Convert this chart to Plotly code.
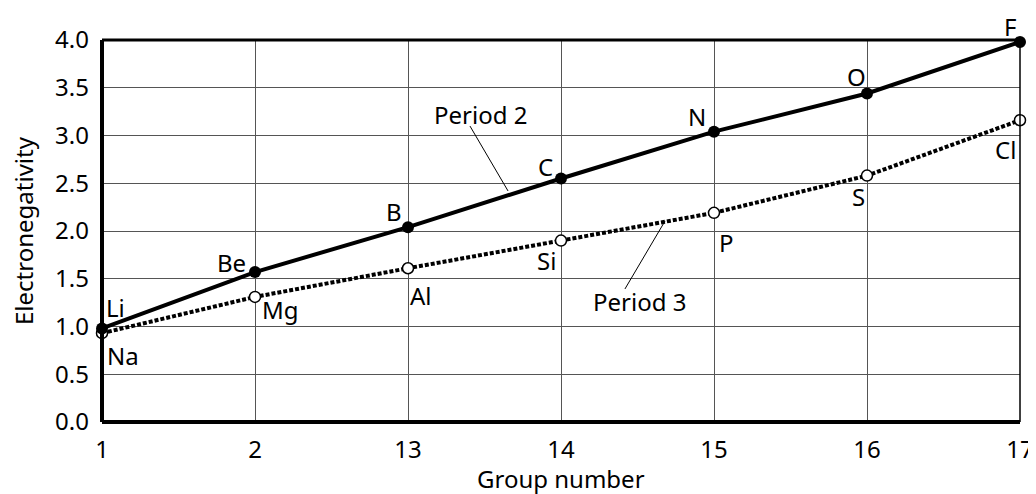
import plotly.graph_objects as go

groups = ["1", "2", "13", "14", "15", "16", "17"]
period2_symbols = ["Li", "Be", "B", "C", "N", "O", "F"]
period2_values = [0.98, 1.57, 2.04, 2.55, 3.04, 3.44, 3.98]
period3_symbols = ["Na", "Mg", "Al", "Si", "P", "S", "Cl"]
period3_values = [0.93, 1.31, 1.61, 1.90, 2.19, 2.58, 3.16]
y_ticks = [0.0, 0.5, 1.0, 1.5, 2.0, 2.5, 3.0, 3.5, 4.0]

xi = list(range(len(groups)))
FONT = "Noto Sans"
FS = 24

fig = go.Figure()
fig.add_trace(go.Scatter(
    x=xi, y=period3_values, mode="lines+markers",
    line=dict(color="black", width=4, dash="4px,2px"),
    marker=dict(symbol="circle", size=11, color="white", line=dict(color="black", width=1.5)),
    cliponaxis=False, showlegend=False))
fig.add_trace(go.Scatter(
    x=xi, y=period2_values, mode="lines+markers",
    line=dict(color="black", width=4),
    marker=dict(symbol="circle", size=12, color="black"),
    cliponaxis=False, showlegend=False))

# label offsets in pixels (dx right, dy down) from each point, centre of text
p2_off = [(13, -21), (-24, -10), (-14, -16), (-16, -12), (-17, -15), (-11, -17), (-10, -15)]
p3_off = [(21, 22), (25, 13), (13, 27), (-15, 20), (12, 30), (-9, 21), (-15, 29)]
for i, (s, v) in enumerate(zip(period2_symbols, period2_values)):
    dx, dy = p2_off[i]
    fig.add_annotation(x=i, y=v, text=s, showarrow=False, xanchor="center", yanchor="middle",
                       xshift=dx, yshift=-dy, font=dict(family=FONT, size=FS, color="black"))
for i, (s, v) in enumerate(zip(period3_symbols, period3_values)):
    dx, dy = p3_off[i]
    fig.add_annotation(x=i, y=v, text=s, showarrow=False, xanchor="center", yanchor="middle",
                       xshift=dx, yshift=-dy, font=dict(family=FONT, size=FS, color="black"))

# Series name callouts with leader lines
fig.add_annotation(x=2.471, y=3.225, text="Period 2", showarrow=False,
                   font=dict(family=FONT, size=FS, color="black"))
fig.add_shape(type="line", xref="x", yref="y", x0=2.405, y0=3.099, x1=2.654, y1=2.419,
              line=dict(color="black", width=1))
fig.add_annotation(x=3.516, y=1.257, text="Period 3", showarrow=False,
                   font=dict(family=FONT, size=FS, color="black"))
fig.add_shape(type="line", xref="x", yref="y", x0=3.418, y0=1.393, x1=3.680, y1=2.105,
              line=dict(color="black", width=1))

# axis titles
fig.add_annotation(xref="paper", yref="paper", x=0.5, y=0, yanchor="middle", yshift=-56,
                   text="Group number", showarrow=False,
                   font=dict(family=FONT, size=FS, color="black"))
fig.add_annotation(xref="paper", yref="paper", x=0, y=0.5, xanchor="center", xshift=-79,
                   text="Electronegativity", textangle=-90, showarrow=False,
                   font=dict(family=FONT, size=FS, color="black"))

# frame: thick left/bottom, medium top, thin right
fig.add_shape(type="line", xref="paper", yref="paper", x0=0, x1=0, y0=0, y1=1,
              line=dict(color="black", width=4))
fig.add_shape(type="line", xref="paper", yref="paper", x0=0, x1=1, y0=0, y1=0,
              line=dict(color="black", width=4))
fig.add_shape(type="line", xref="paper", yref="paper", x0=0, x1=1, y0=1, y1=1,
              line=dict(color="black", width=3))
fig.add_shape(type="line", xref="paper", yref="paper", x0=1, x1=1, y0=0, y1=1,
              line=dict(color="black", width=1.5))

# page body has an 8px margin, so the figure is 8px smaller and margins shifted
fig.update_layout(
    width=1028, height=486,
    margin=dict(l=94, r=16, t=32, b=72, autoexpand=False),
    paper_bgcolor="white", plot_bgcolor="white",
    font=dict(family=FONT, size=FS, color="black"),
)
fig.update_xaxes(range=[0, len(groups) - 1], tickvals=xi, ticktext=groups,
                 showgrid=True, gridcolor="#555555", gridwidth=1, zeroline=False,
                 showline=False, ticks="", automargin=False, ticklabelstandoff=11,
                 tickfont=dict(family=FONT, size=FS))
fig.update_yaxes(range=[0, 4.0], tickvals=y_ticks, ticktext=[f"{v:.1f}" for v in y_ticks],
                 showgrid=True, gridcolor="#555555", gridwidth=1, zeroline=False,
                 showline=False, ticks="", automargin=False, ticklabelstandoff=12,
                 tickfont=dict(family=FONT, size=FS))

fig.write_html("out.html")
